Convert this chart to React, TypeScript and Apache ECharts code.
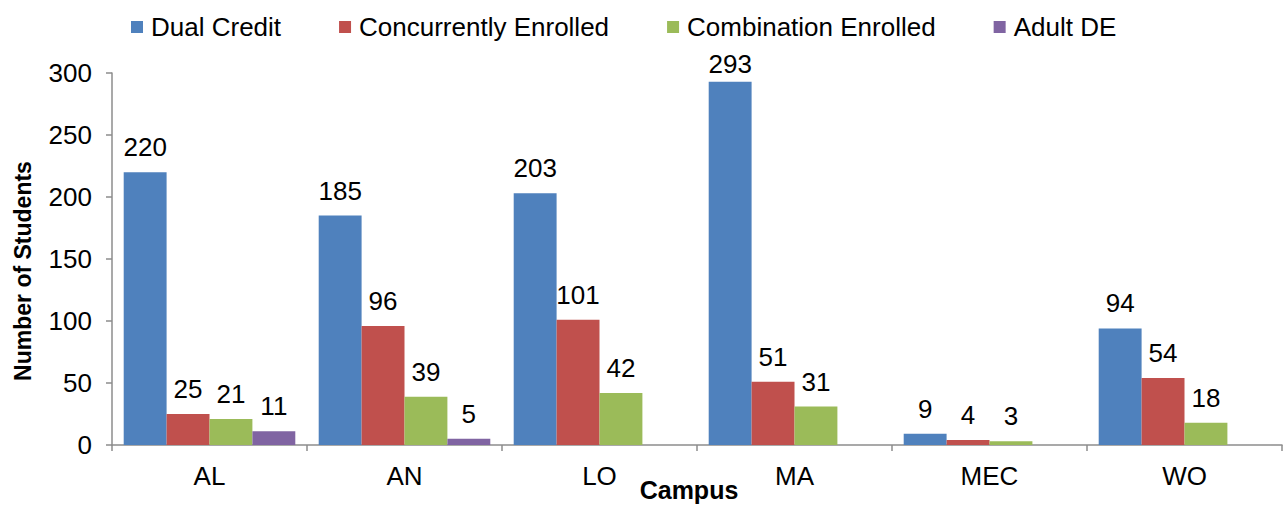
import React, { useEffect, useRef } from "react";
import * as echarts from "echarts";

const categories = ["AL", "AN", "LO", "MA", "MEC", "WO"];
const dualCredit = [220, 185, 203, 293, 9, 94];
const concurrentlyEnrolled = [25, 96, 101, 51, 4, 54];
const combinationEnrolled = [21, 39, 42, 31, 3, 18];
const adultDE: (number | null)[] = [11, 5, null, null, null, null];
const seriesNames = ["Dual Credit", "Concurrently Enrolled", "Combination Enrolled", "Adult DE"];
const seriesColors = ["#4F81BD", "#C0504D", "#9BBB59", "#8064A2"];
const yTitle = "Number of Students";
const xTitle = "Campus";

const FONT = "'Liberation Sans', Arial, sans-serif";

export default function App() {
  const ref = useRef<HTMLDivElement>(null);
  useEffect(() => {
    if (!ref.current) return;
    const chart = echarts.init(ref.current, undefined, { renderer: "svg" });
    const dataSets = [dualCredit, concurrentlyEnrolled, combinationEnrolled, adultDE];
    chart.setOption({
      animation: false,
      textStyle: { fontFamily: FONT },
      legend: {
        left: 126,
        top: 9,
        itemWidth: 12,
        itemHeight: 12,
        itemGap: 58,
        icon: "rect",
        textStyle: { fontSize: 26, color: "#000", fontFamily: FONT, padding: [0, 0, 0, 3] },
        data: seriesNames,
      },
      grid: { left: 112, right: 6, top: 73, bottom: 61, outerBoundsMode: "none" },
      graphic: [
        {
          type: "text",
          x: 23,
          y: 271,
          rotation: Math.PI / 2,
          style: {
            text: yTitle,
            fontSize: 23,
            fontWeight: "bold",
            fill: "#000",
            fontFamily: FONT,
            textAlign: "center",
            textVerticalAlign: "middle",
          },
        },
        {
          type: "text",
          x: 689,
          y: 490,
          style: {
            text: xTitle,
            fontSize: 25,
            fontWeight: "bold",
            fill: "#000",
            fontFamily: FONT,
            textAlign: "center",
            textVerticalAlign: "middle",
          },
        },
      ],
      xAxis: {
        type: "category",
        data: categories,
        axisLine: { lineStyle: { color: "#8c8c8c", width: 1.5 } },
        axisTick: { show: true, length: 6, lineStyle: { color: "#8c8c8c", width: 1.5 } },
        axisLabel: { fontSize: 26, color: "#000", margin: 18, fontFamily: FONT },
      },
      yAxis: {
        type: "value",
        min: 0,
        max: 300,
        interval: 50,
        axisLine: { show: true, lineStyle: { color: "#8c8c8c", width: 1.5 } },
        axisTick: { show: true, length: 6, lineStyle: { color: "#8c8c8c", width: 1.5 } },
        axisLabel: { fontSize: 26, color: "#000", margin: 20, fontFamily: FONT },
        splitLine: { show: false },
      },
      series: seriesNames.map((name, i) => ({
        name,
        type: "bar",
        data: dataSets[i].map((v) =>
          v !== null && v > 280 ? { value: v, label: { distance: 5 } } : v
        ),
        barGap: "0%",
        barCategoryGap: "12%",
        itemStyle: { color: seriesColors[i] },
        label: {
          show: true,
          position: "top",
          distance: 12,
          fontSize: 26,
          color: "#000",
          fontFamily: FONT,
        },
      })),
    });
    return () => chart.dispose();
  }, []);
  return (
    <div
      ref={ref}
      style={{ position: "absolute", left: 0, top: 0, width: 1288, height: 506 }}
    />
  );
}
